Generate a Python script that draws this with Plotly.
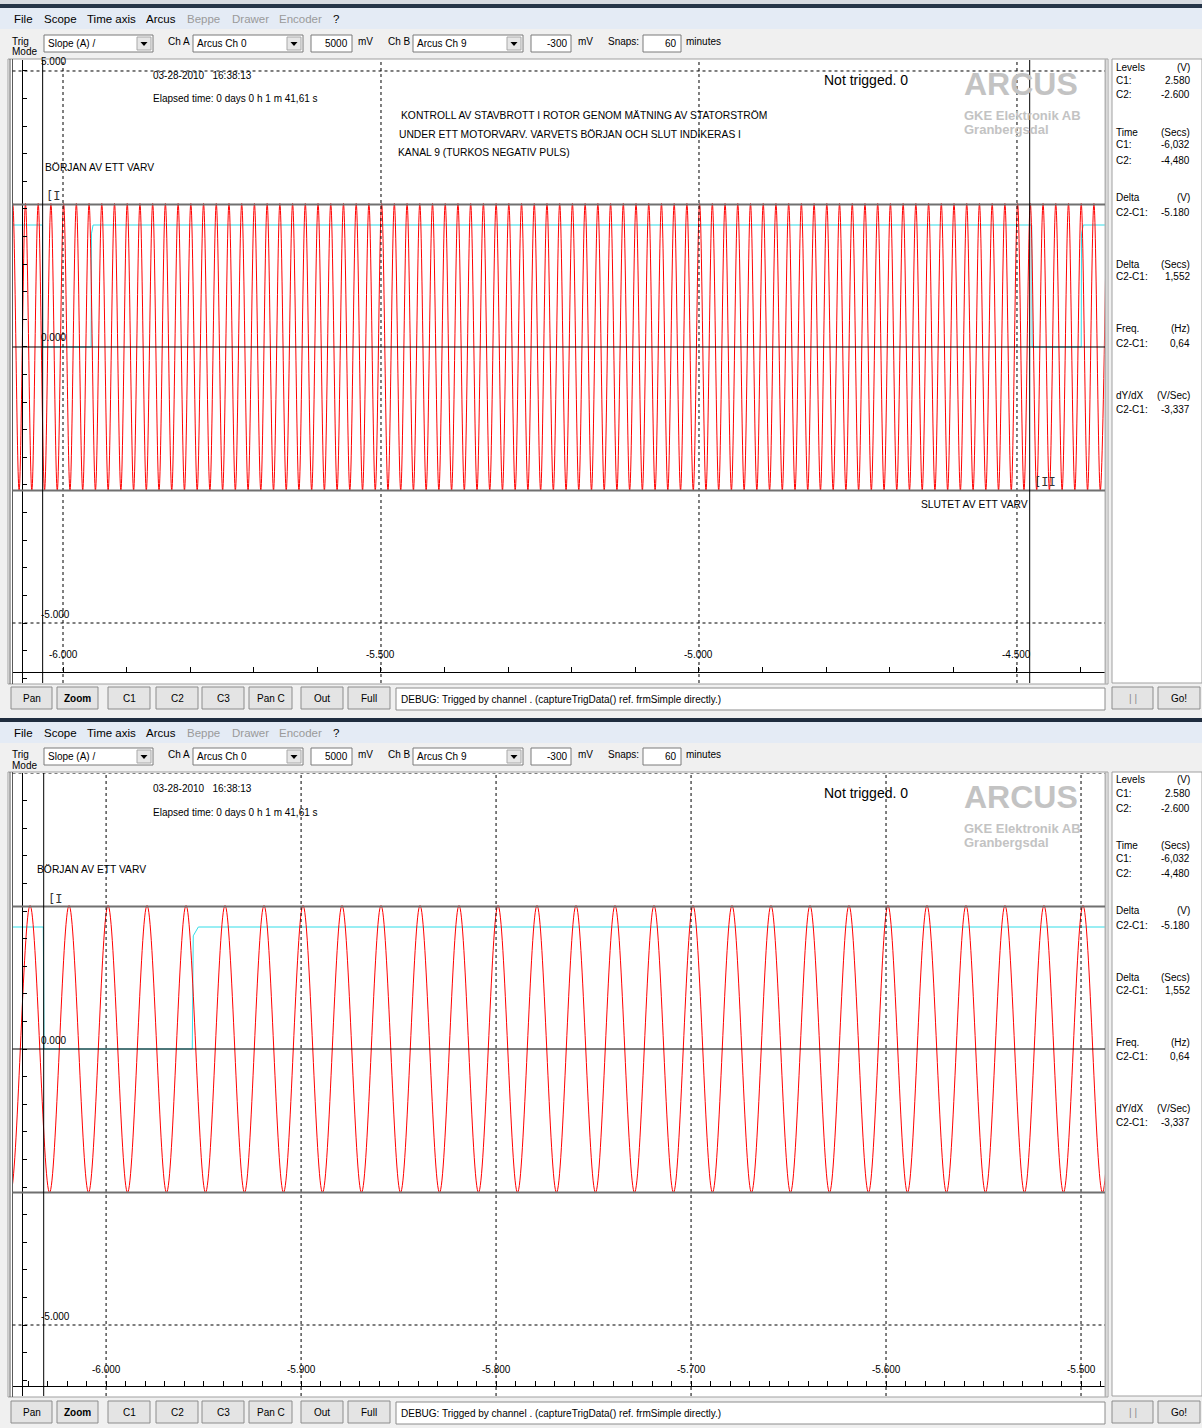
import plotly.graph_objects as go

W, H = 1202, 1428

# ---------------- data ----------------
# Channel 0 (red, stator current): times of maxima / minima in seconds
CH0_PEAK_TIMES_S = [
    -6.079, -6.059, -6.039, -6.019, -5.999, -5.979, -5.959, -5.939, -5.919, -5.899,
    -5.879, -5.859, -5.839, -5.819, -5.799, -5.779, -5.759, -5.739, -5.719, -5.699,
    -5.679, -5.659, -5.639, -5.619, -5.599, -5.579, -5.559, -5.539, -5.519, -5.499,
    -5.479, -5.459, -5.439, -5.419, -5.399, -5.379, -5.359, -5.339, -5.319, -5.299,
    -5.279, -5.259, -5.239, -5.219, -5.199, -5.179, -5.159, -5.139, -5.119, -5.099,
    -5.079, -5.059, -5.039, -5.019, -4.999, -4.979, -4.959, -4.939, -4.919, -4.899,
    -4.879, -4.859, -4.839, -4.819, -4.799, -4.779, -4.759, -4.739, -4.719, -4.699,
    -4.679, -4.659, -4.639, -4.619, -4.599, -4.579, -4.559, -4.539, -4.519, -4.499,
    -4.479, -4.459, -4.439, -4.419, -4.399, -4.379, -4.359,
]
CH0_TROUGH_TIMES_S = [
    -6.089, -6.069, -6.049, -6.029, -6.009, -5.989, -5.969, -5.949, -5.929, -5.909,
    -5.889, -5.869, -5.849, -5.829, -5.809, -5.789, -5.769, -5.749, -5.729, -5.709,
    -5.689, -5.669, -5.649, -5.629, -5.609, -5.589, -5.569, -5.549, -5.529, -5.509,
    -5.489, -5.469, -5.449, -5.429, -5.409, -5.389, -5.369, -5.349, -5.329, -5.309,
    -5.289, -5.269, -5.249, -5.229, -5.209, -5.189, -5.169, -5.149, -5.129, -5.109,
    -5.089, -5.069, -5.049, -5.029, -5.009, -4.989, -4.969, -4.949, -4.929, -4.909,
    -4.889, -4.869, -4.849, -4.829, -4.809, -4.789, -4.769, -4.749, -4.729, -4.709,
    -4.689, -4.669, -4.649, -4.629, -4.609, -4.589, -4.569, -4.549, -4.529, -4.509,
    -4.489, -4.469, -4.449, -4.429, -4.409, -4.389, -4.369,
]
CH0_PEAK_V = 2.60
CH0_TROUGH_V = -2.60

# Channel 9 (cyan, revolution pulse)
CH9_TIMES_S = [-6.090, -6.0322, -6.0318, -5.9558, -5.9553, -5.9527,
               -4.4768, -4.4762, -4.3990, -4.3985, -4.3958, -4.350]
CH9_VOLTS = [2.21, 2.21, 0.0, 0.0, 2.05, 2.21,
             2.21, 0.0, 0.0, 2.05, 2.21, 2.21]

CURSOR_LEVELS_V = [2.58, -2.60]
CURSOR_TIMES_S = [-6.032, -4.480]
LIMIT_LEVELS_V = [5.0, -5.0]

TOP_XTICK_VALS = [-6.0, -5.5, -5.0, -4.5]
TOP_XTICK_TEXT = ["-6.000", "-5.500", "-5.000", "-4.500"]
BOT_XTICK_VALS = [-6.0, -5.9, -5.8, -5.7, -5.6, -5.5]
BOT_XTICK_TEXT = ["-6.000", "-5.900", "-5.800", "-5.700", "-5.600", "-5.500"]
TOP_YTICK_VALS = [5.0, 0.0, -5.0]
TOP_YTICK_TEXT = ["5.000", "0.000", "-5.000"]
BOT_YTICK_VALS = [0.0, -5.0]
BOT_YTICK_TEXT = ["0.000", "-5.000"]

PANEL_ROWS = [
    ("Levels", "(V)", 67), ("C1:", "2.580", 80), ("C2:", "-2.600", 95),
    ("Time", "(Secs)", 132), ("C1:", "-6,032", 145), ("C2:", "-4,480", 160),
    ("Delta", "(V)", 198), ("C2-C1:", "-5.180", 212),
    ("Delta", "(Secs)", 264), ("C2-C1:", "1,552", 277),
    ("Freq.", "(Hz)", 329), ("C2-C1:", "0,64", 343),
    ("dY/dX", "(V/Sec)", 395), ("C2-C1:", "-3,337", 409),
]
MENU_ITEMS = [("File", 12, "black"), ("Scope", 42, "black"), ("Time axis", 85, "black"),
              ("Arcus", 144, "black"), ("Beppe", 185, "#9a9a9a"), ("Drawer", 230, "#9a9a9a"),
              ("Encoder", 277, "#9a9a9a"), ("?", 331, "black")]
BUTTONS = [("Pan", 11, 52), ("Zoom", 57, 98), ("C1", 108, 150), ("C2", 156, 198),
           ("C3", 202, 244), ("Pan C", 249, 292), ("Out", 301, 343), ("Full", 348, 390)]

UI = "Liberation Sans, Arial, sans-serif"
NARROW = "Liberation Sans Narrow, Liberation Sans, Arial, sans-serif"
FS = 10

shapes = []
annots = []


def fx(x):
    return x / W


def fy(y):
    return 1 - y / H


def rect(x0, y0, x1, y1, fill=None, line=None, lw=1, layer="below"):
    shapes.append(dict(type="rect", xref="paper", yref="paper",
                       x0=fx(x0), x1=fx(x1), y0=fy(y1), y1=fy(y0),
                       fillcolor=fill if fill else "rgba(0,0,0,0)",
                       line=dict(color=line if line else "rgba(0,0,0,0)", width=lw if line else 0),
                       layer=layer))


def pline(x0, y0, x1, y1, color="black", lw=1, layer="above", dash="solid"):
    shapes.append(dict(type="line", xref="paper", yref="paper",
                       x0=fx(x0), x1=fx(x1), y0=fy(y0), y1=fy(y1),
                       line=dict(color=color, width=lw, dash=dash), layer=layer))


def text(x, y, s, size=11, color="black", anchor="left", family=UI):
    annots.append(dict(x=fx(x), y=fy(y), xref="paper", yref="paper", text=s,
                       showarrow=False, xanchor=anchor, yanchor="middle",
                       font=dict(size=size, color=color, family=family)))


def combo(x0, x1, y0, y1, label):
    rect(x0, y0, x1, y1, fill="white", line="#7a7a7a")
    text(x0 + 2, (y0 + y1) / 2, label, size=FS, family=NARROW)
    rect(x1 - 16, y0 + 2, x1 - 2, y1 - 2, fill="#e6e6e6", line="#a8a8a8")
    cx, cy = x1 - 9, (y0 + y1) / 2
    shapes.append(dict(type="path", xref="paper", yref="paper",
                       path="M %f,%f L %f,%f L %f,%f Z" % (fx(cx - 3.5), fy(cy - 1.5), fx(cx + 3.5), fy(cy - 1.5), fx(cx), fy(cy + 2.5)),
                       fillcolor="black", line=dict(width=0), layer="below"))


def field(x0, x1, y0, y1, value):
    rect(x0, y0, x1, y1, fill="white", line="#7a7a7a")
    text(x1 - 2, (y0 + y1) / 2, value, size=FS, anchor="right", family=NARROW)


def button(x0, x1, y0, y1, label, color="black", bold=False):
    rect(x0, y0, x1, y1, fill="#e4e4e4", line="#8c8c8c")
    s = "<b>%s</b>" % label if bold else label
    text((x0 + x1) / 2, (y0 + y1) / 2, s, size=FS, anchor="center", color=color, family=NARROW)


def window(oy, mo):
    # menu bar
    rect(0, 8 + mo, W, 29 + mo, fill="#e4ebf5")
    for name, x, c in MENU_ITEMS:
        text(x, 19 + mo, name, size=11.5, color=c)
    # toolbar
    text(10, 41 + oy, "Trig", size=FS, family=NARROW)
    text(10, 52 + oy, "Mode", size=FS, family=NARROW)
    combo(44, 153, 35 + oy, 52 + oy, "Slope (A) /")
    text(166, 41 + oy, "Ch A", size=FS, family=NARROW)
    combo(193, 303, 35 + oy, 52 + oy, "Arcus Ch 0")
    field(311, 352, 35 + oy, 52 + oy, "5000")
    text(356, 41 + oy, "mV", size=FS, family=NARROW)
    text(386, 41 + oy, "Ch B", size=FS, family=NARROW)
    combo(413, 523, 35 + oy, 52 + oy, "Arcus Ch 9")
    field(531, 571, 35 + oy, 52 + oy, "-300")
    text(576, 41 + oy, "mV", size=FS, family=NARROW)
    text(606, 41 + oy, "Snaps:", size=FS, family=NARROW)
    field(643, 681, 35 + oy, 52 + oy, "60")
    text(684, 41 + oy, "minutes", size=FS, family=NARROW)
    # plot frame
    rect(8, 59 + oy, 1108, 684 + oy, fill="white", line="#a0a0a0")
    pline(10, 59 + oy, 10, 684 + oy, color="#5a5a5a", layer="above")
    pline(12.5, 59 + oy, 12.5, 684 + oy, color="#5a5a5a", layer="above")
    pline(1105.5, 59 + oy, 1105.5, 684 + oy, color="#b4b4b4", lw=2, layer="above")
    # right panel
    rect(1112, 59 + oy, 1202, 683 + oy, fill="white", line="#a0a0a0")
    for lab, val, y in PANEL_ROWS:
        text(1114, y + oy, lab, size=FS, family=NARROW)
        text(1192, y + oy, val, size=FS, anchor="right", family=NARROW)
    # buttons row
    for lab, x0, x1 in BUTTONS:
        button(x0, x1, 687 + mo, 709 + mo, lab, bold=(lab == "Zoom"))
    rect(396, 688 + mo, 1105, 710 + mo, fill="white", line="#8c8c8c")
    text(399, 699 + mo, "DEBUG: Trigged by channel . (captureTrigData() ref. frmSimple directly.)",
         size=FS, family=NARROW)
    button(1112, 1153, 687 + mo, 709 + mo, "| |", color="#8a8a8a")
    button(1158, 1200, 687 + mo, 709 + mo, "Go!")
    # header texts inside the plot
    text(151, 75 + oy, "03-28-2010\u00a0\u00a0\u00a016:38:13", size=FS, family=NARROW)
    text(151, 99 + oy, "Elapsed time: 0 days 0 h 1 m 41,61 s", size=FS, family=NARROW)
    text(822, 80 + oy, "Not trigged. 0", size=14)
    text(962, 84 + oy, "<b>ARCUS</b>", size=32, color="#c3c3c3")
    text(962, 115 + oy, "<b>GKE Elektronik AB</b>", size=13, color="#c3c3c3")
    text(962, 129 + oy, "<b>Granbergsdal</b>", size=13, color="#c3c3c3")


# window chrome backgrounds
rect(0, 0, W, 4, fill="#d7dbe1")
rect(0, 4, W, 8, fill="#263548")
rect(0, 713, W, 718, fill="#f0f0f0")
rect(0, 718, W, 722, fill="#1f2c3e")

window(0, 0)
window(713, 714)

# top-only texts
text(399, 115, "KONTROLL AV STAVBROTT I ROTOR GENOM MÄTNING AV STATORSTRÖM", size=10.3, family=NARROW)
text(397, 134, "UNDER ETT MOTORVARV. VARVETS BÖRJAN OCH SLUT INDIKERAS I", size=10.3, family=NARROW)
text(396, 153, "KANAL 9 (TURKOS NEGATIV PULS)", size=10.3, family=NARROW)
text(43, 167, "BÖRJAN AV ETT VARV", size=10.3, family=NARROW)
text(919, 504, "SLUTET AV ETT VARV", size=10.3, family=NARROW)
text(44, 196, "[I", size=12, color="#333333", family="DejaVu Sans Mono")
text(1032, 482, "[II", size=12, color="#333333", family="DejaVu Sans Mono")
# bottom-only texts
text(35, 870, "BÖRJAN AV ETT VARV", size=10.3, family=NARROW)
text(46, 899, "[I", size=12, color="#333333", family="DejaVu Sans Mono")

# ---------------- traces ----------------
pts = sorted([(t, CH0_PEAK_V) for t in CH0_PEAK_TIMES_S] + [(t, CH0_TROUGH_V) for t in CH0_TROUGH_TIMES_S])
ch0_t = [p[0] for p in pts]
ch0_v = [p[1] for p in pts]

fig = go.Figure()
for xa, ya in (("x", "y"), ("x2", "y2")):
    fig.add_trace(go.Scatter(x=CH9_TIMES_S, y=CH9_VOLTS, mode="lines", xaxis=xa, yaxis=ya,
                             line=dict(color="#33dde8", width=1), hoverinfo="skip", showlegend=False))
    fig.add_trace(go.Scatter(x=ch0_t, y=ch0_v, mode="lines", xaxis=xa, yaxis=ya,
                             line=dict(color="#ff0000", width=1, shape="spline"),
                             hoverinfo="skip", showlegend=False))

# ---------------- plot-referenced lines and tick labels ----------------
panels = [
    ("x", "y", TOP_XTICK_VALS, TOP_XTICK_TEXT, TOP_YTICK_VALS, TOP_YTICK_TEXT, 655),
    ("x2", "y2", BOT_XTICK_VALS, BOT_XTICK_TEXT, BOT_YTICK_VALS, BOT_YTICK_TEXT, 1369),
]
for xr, yr, xv, xt, yv, yt, xlab_y in panels:
    # dotted grid at major time ticks
    for tv in xv:
        shapes.append(dict(type="line", xref=xr, yref=yr + " domain", x0=tv, x1=tv, y0=0, y1=1,
                           line=dict(color="black", width=1, dash="dot"), layer="above"))
    # zero line
    shapes.append(dict(type="line", xref=xr + " domain", yref=yr, x0=0, x1=1, y0=0, y1=0,
                       line=dict(color="black", width=1), layer="above"))
    for lv in LIMIT_LEVELS_V:
        shapes.append(dict(type="line", xref=xr + " domain", yref=yr, x0=0, x1=1, y0=lv, y1=lv,
                           line=dict(color="black", width=1, dash="dot"), layer="above"))
    for lv in CURSOR_LEVELS_V:
        shapes.append(dict(type="line", xref=xr + " domain", yref=yr, x0=0, x1=1, y0=lv, y1=lv,
                           line=dict(color="#707070", width=2), layer="above"))
    for tv in CURSOR_TIMES_S:
        shapes.append(dict(type="line", xref=xr, yref=yr + " domain", x0=tv, x1=tv, y0=0, y1=1,
                           line=dict(color="black", width=1), layer="above"))
    # tick labels
    for tv, tt in zip(xv, xt):
        annots.append(dict(x=tv, xref=xr, y=fy(xlab_y), yref="paper", text=tt, showarrow=False,
                           xanchor="center", yanchor="middle",
                           font=dict(size=FS, family=NARROW, color="black")))
    for v, tt in zip(yv, yt):
        annots.append(dict(x=fx(39), xref="paper", y=v, yref=yr, text=tt, showarrow=False,
                           xanchor="left", yanchor="middle", yshift=9,
                           font=dict(size=FS, family=NARROW, color="black")))


def xaxis(rng, xpos_px, tickvals, minor_dtick):
    return dict(domain=[fx(12.5), fx(1105)], range=rng, anchor="free", position=fy(xpos_px),
                showline=True, linecolor="black", linewidth=1,
                tickmode="array", tickvals=tickvals, showticklabels=False,
                ticks="inside", ticklen=5, tickcolor="black", tickwidth=1,
                showgrid=False, zeroline=False, fixedrange=True,
                minor=dict(ticks="inside", ticklen=5, tickcolor="black", tickwidth=1,
                           tickmode="linear", tick0=-6.0, dtick=minor_dtick, showgrid=False))


def yaxis(dom_px, rng):
    return dict(domain=[fy(dom_px[1]), fy(dom_px[0])], range=rng, anchor="free", position=fx(22),
                showline=True, linecolor="black", linewidth=1,
                tickmode="linear", tick0=0, dtick=0.5, showticklabels=False,
                ticks="inside", ticklen=4, tickcolor="black", tickwidth=1,
                showgrid=False, zeroline=False, fixedrange=True)


fig.update_layout(
    width=W, height=H, margin=dict(l=0, r=0, t=0, b=0, pad=0),
    paper_bgcolor="#f0f0f0", plot_bgcolor="white", showlegend=False, hovermode=False,
    xaxis=xaxis([-6.0794, -4.3616], 672, TOP_XTICK_VALS, 0.1),
    yaxis=yaxis((60, 683), [-6.087, 5.199]),
    xaxis2=xaxis([-6.0480, -5.4877], 1386, BOT_XTICK_VALS, 0.01),
    yaxis2=yaxis((773, 1396), [-6.286, 5.0]),
    shapes=shapes, annotations=annots,
)

fig.write_html("out.html", config={"displayModeBar": False, "staticPlot": True},
               post_script="document.body.style.margin='0px';document.body.style.overflow='hidden';")
